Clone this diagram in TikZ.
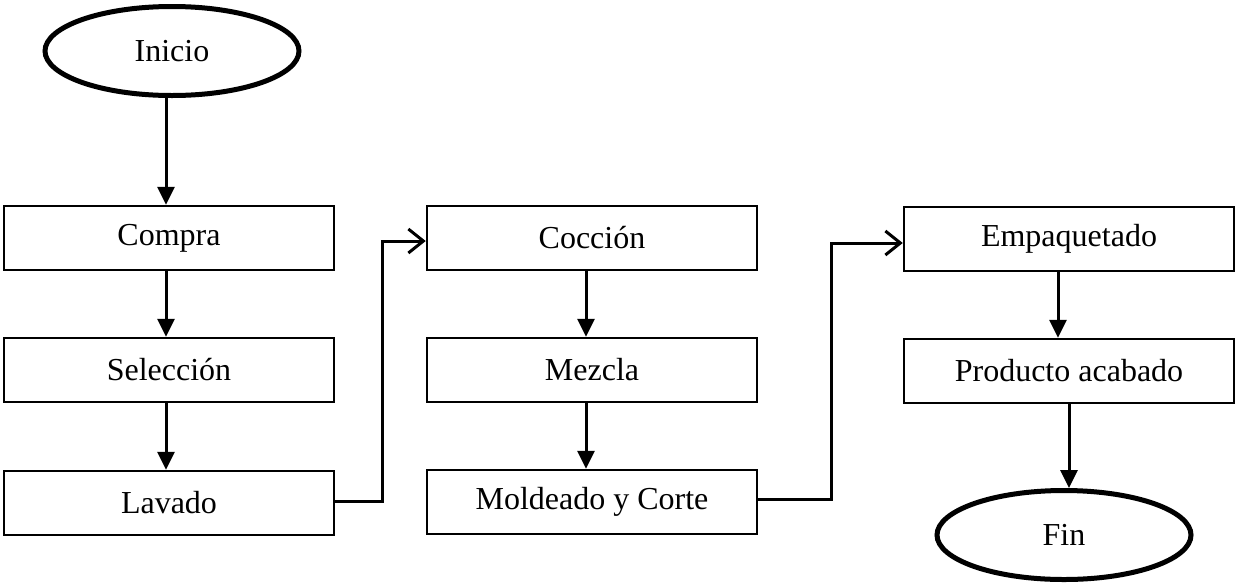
\documentclass[tikz,border=0pt]{standalone}
\usepackage{fontspec}
\setmainfont{Liberation Serif}
\usetikzlibrary{arrows.meta,shapes.geometric}
\begin{document}
\begin{tikzpicture}[x=1pt,y=-1pt,
  font=\fontsize{32}{38}\selectfont,
  stepbox/.style={draw,rectangle,line width=2.5pt,minimum width=330pt,minimum height=64pt,inner sep=0pt},
  term/.style={draw,ellipse,line width=5pt,minimum width=254pt,minimum height=89pt,inner sep=0pt},
  flow/.style={line width=3pt,-{Triangle[length=18pt,width=17pt]}},
  conn/.style={line width=3pt,-{Straight Barb[length=15pt,width=24pt,line width=3pt]}}]
\useasboundingbox (0,0) rectangle (1236,584);
\node[term] (ini) at (172,51) {Inicio};
\node[stepbox] (com) at (169,238) {Compra};
\node[stepbox] (sel) at (169,370) {Selección};
\node[stepbox] (lav) at (169,503) {Lavado};
\node[stepbox] (coc) at (592,238) {Cocción};
\node[stepbox] (mez) at (592,370) {Mezcla};
\node[stepbox] (mol) at (592,502) {Moldeado y Corte};
\node[stepbox] (emp) at (1069,239) {Empaquetado};
\node[stepbox] (pro) at (1069,371) {Producto acabado};
\node[term] (fin) at (1064,535) {Fin};
\draw[flow] ([xshift=-6pt]ini.south) -- ([xshift=-6pt]ini.south |- com.north);
\draw[flow] ([xshift=-3pt]com.south) -- ([xshift=-3pt]sel.north);
\draw[flow] ([xshift=-3pt]sel.south) -- ([xshift=-3pt]lav.north);
\draw[flow] ([xshift=-6pt]coc.south) -- ([xshift=-6pt]mez.north);
\draw[flow] ([xshift=-6pt]mez.south) -- ([xshift=-6pt]mol.north);
\draw[flow] ([xshift=-11pt]emp.south) -- ([xshift=-11pt]pro.north);
\draw[flow] (pro.south) -- (pro.south |- fin.north);
\draw[conn] ([yshift=2pt]lav.east) -- ++(47,0) |- ([yshift=-3pt]coc.west);
\draw[conn] ([yshift=3pt]mol.east) -- ++(73,0) |- ([yshift=-4pt]emp.west);
\end{tikzpicture}
\end{document}
